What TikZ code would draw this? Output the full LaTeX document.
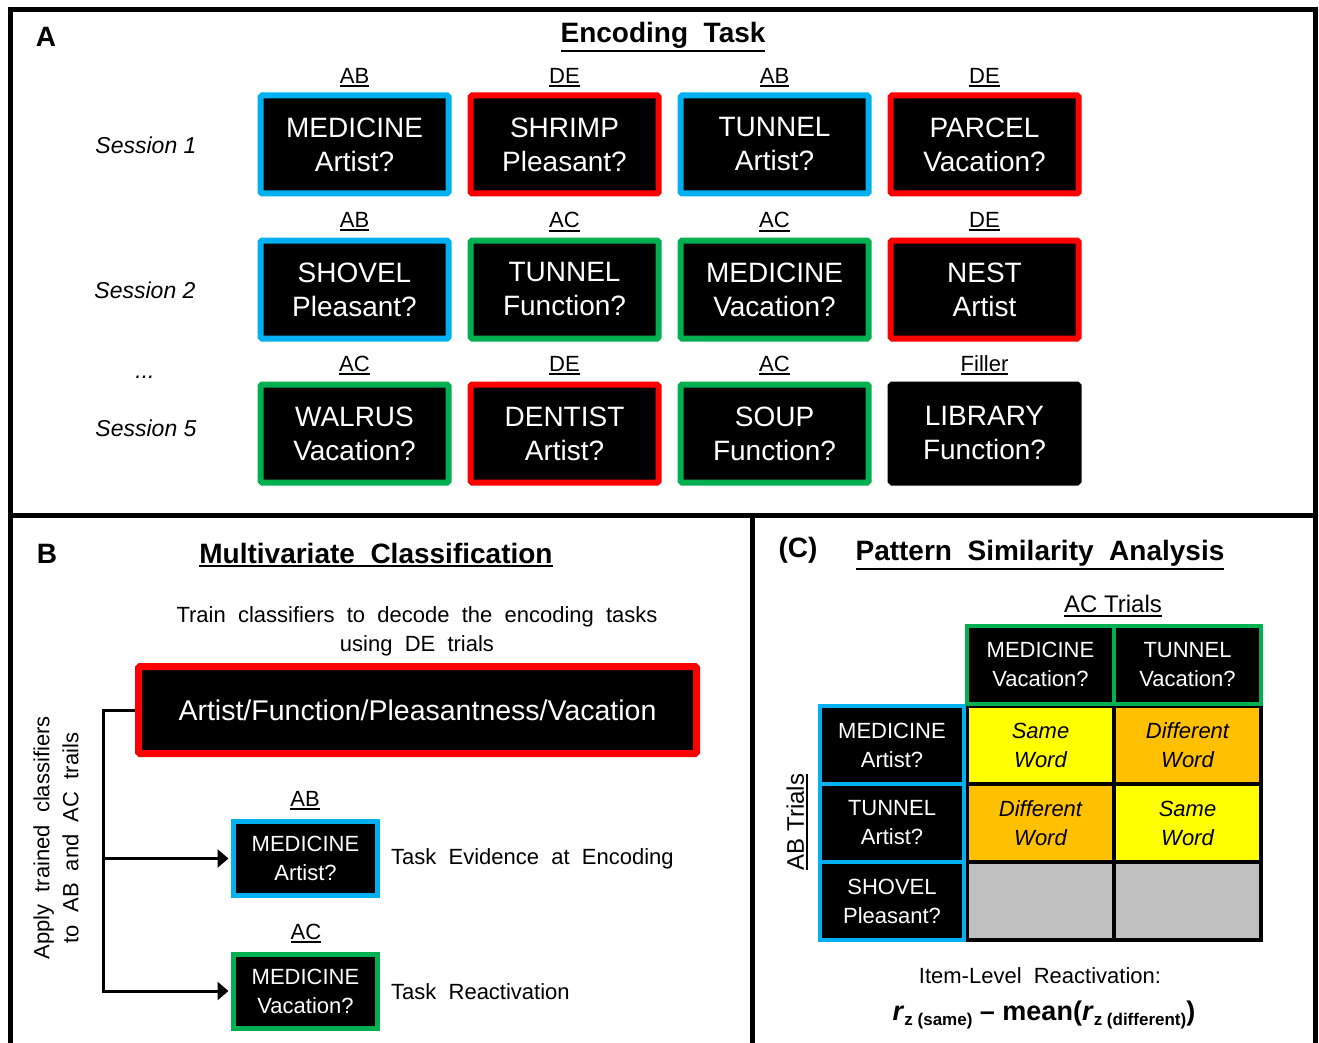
\documentclass[tikz,border=0pt]{standalone}
\usepackage{fontspec}
\setmainfont{Liberation Sans}
\usetikzlibrary{arrows.meta}
\definecolor{cblue}{HTML}{00B0F0}
\definecolor{cred}{HTML}{FF0000}
\definecolor{cgreen}{HTML}{00B050}
\definecolor{cyel}{HTML}{FFFF00}
\definecolor{corange}{HTML}{FFC000}
\definecolor{cgray}{HTML}{C0C0C0}
\newcommand\fs[2]{\fontsize{#1}{#2}\selectfont}
\newcommand\myul[1]{\setbox0=\hbox{#1}\leavevmode\rlap{\vrule width\wd0 height -\dimexpr\dp0+1.5pt\relax depth \dimexpr\dp0+3.5pt\relax}\box0}
\begin{document}
\begin{tikzpicture}[x=1pt,y=-1pt,
  panel/.style={line width=5pt, line join=miter},
  letter/.style={font=\fs{28}{32}\bfseries, inner sep=0pt},
  title/.style={font=\fs{28}{32}\bfseries, inner sep=0pt},
  lab/.style={font=\fs{22}{26}, inner sep=0pt},
  txt/.style={font=\fs{22}{29}, inner sep=0pt},
  sess/.style={font=\fs{23}{27}\itshape, inner sep=0pt},
  card/.style={draw=#1, line width=6pt, fill=black, text=white, minimum width=188pt, minimum height=98pt, align=center, font=\fs{28}{34}, rounded corners=1.5pt, inner sep=0pt},
  bigcard/.style={draw=cred, line width=7pt, fill=black, text=white, minimum width=558pt, minimum height=87pt, align=center, font=\fs{28.5}{34}, rounded corners=1.5pt, inner sep=0pt},
  scard/.style={draw=#1, line width=5pt, fill=black, text=white, minimum width=144pt, minimum height=74pt, align=center, font=\fs{22}{29}, inner sep=0pt},
  cell/.style={draw=black, line width=4pt, fill=#1, minimum width=147pt, minimum height=78pt, align=center, font=\fs{22}{29}\itshape, inner sep=0pt},
  hcell/.style={draw=#1, line width=4pt, fill=black, text=white, minimum width=147pt, minimum height=78pt, align=center, font=\fs{22}{29}, inner sep=0pt},
  rcell/.style={draw=#1, line width=4pt, fill=black, text=white, minimum width=144pt, minimum height=78pt, align=center, font=\fs{22}{29}, inner sep=0pt},
  conn/.style={line width=3pt, line join=miter, -{Triangle[length=11pt,width=18pt]}, shorten >=2.5pt}
]
\useasboundingbox (0,0) rectangle (1319,1043);
% frame
\draw[panel] (10,1043) -- (10,10) -- (1315,10) -- (1315,1043);
\draw[panel] (10,515) -- (1315,515);
\draw[panel] (752,515) -- (752,1043);

% ---------- Panel A ----------
\node[letter] (lA) at (46,37) {A};
\node[title] (tA) at (663,37) {\myul{Encoding\ \ Task}};
\node[sess] (s1) at (146,145) {Session 1};
\node[sess] (s2) at (145,290) {Session 2};
\node[sess] (sd) at (145,377) {...};
\node[sess] (s5) at (146,428) {Session 5};

\node[lab] (l11) at (354.5,77.5) {\myul{AB}};
\node[lab] (l12) at (564.5,77.5) {\myul{DE}};
\node[lab] (l13) at (774.5,77.5) {\myul{AB}};
\node[lab] (l14) at (984.5,77.5) {\myul{DE}};
\node[card=cblue]  (a11) at (354.5,144.5) {MEDICINE\\Artist?};
\node[card=cred]   (a12) at (564.5,144.5) {SHRIMP\\Pleasant?};
\node[card=cblue]  (a13) at (774.5,144.5) {TUNNEL\\Artist?};
\node[card=cred]   (a14) at (984.5,144.5) {PARCEL\\Vacation?};

\node[lab] (l21) at (354.5,222) {\myul{AB}};
\node[lab] (l22) at (564.5,222) {\myul{AC}};
\node[lab] (l23) at (774.5,222) {\myul{AC}};
\node[lab] (l24) at (984.5,222) {\myul{DE}};
\node[card=cblue]  (a21) at (354.5,289.5) {SHOVEL\\Pleasant?};
\node[card=cgreen] (a22) at (564.5,289.5) {TUNNEL\\Function?};
\node[card=cgreen] (a23) at (774.5,289.5) {MEDICINE\\Vacation?};
\node[card=cred]   (a24) at (984.5,289.5) {NEST\\Artist};

\node[lab] (l31) at (354.5,365.5) {\myul{AC}};
\node[lab] (l32) at (564.5,365.5) {\myul{DE}};
\node[lab] (l33) at (774.5,365.5) {\myul{AC}};
\node[lab] (l34) at (984.5,365.5) {\myul{Filler}};
\node[card=cgreen] (a31) at (354.5,433.5) {WALRUS\\Vacation?};
\node[card=cred]   (a32) at (564.5,433.5) {DENTIST\\Artist?};
\node[card=cgreen] (a33) at (774.5,433.5) {SOUP\\Function?};
\node[card=black]  (a34) at (984.5,433.5) {LIBRARY\\Function?};

% ---------- Panel B ----------
\node[letter] (lB) at (47,554) {B};
\node[title] (tB) at (376,555) {\myul{Multivariate\ \ Classification}};
\node[txt, align=center] (train) at (417,631) {Train\ \ classifiers\ \ to\ \ decode\ \ the\ \ encoding\ \ tasks\\using\ \ DE\ \ trials};
\node[bigcard] (big) at (417.5,710) {Artist/Function/Pleasantness/Vacation};
\node[lab] (lab) at (305,800.5) {\myul{AB}};
\node[scard=cblue] (ab) at (305.5,858.5) {MEDICINE\\Artist?};
\node[lab] (lac) at (306,933.5) {\myul{AC}};
\node[scard=cgreen] (ac) at (305.5,991) {MEDICINE\\Vacation?};
\node[txt, anchor=west] (te) at (391,859) {Task\ \ Evidence\ \ at\ \ Encoding};
\node[txt, anchor=west] (tr) at (391,992) {Task\ \ Reactivation};
\node[txt, rotate=90, align=center] (apply) at (56,838) {Apply\ \ trained\ \ classifiers\\to\ \ AB\ \ and\ \ AC\ \ trails};
\coordinate (trunk) at (103,710);
\draw[conn] (big.west) -- (trunk) |- (ac.west);
\draw[conn] (trunk |- ab.west) -- (ab.west);

% ---------- Panel C ----------
\node[letter] (lC) at (798,550) {(C)};
\node[title] (tC) at (1040,555) {\myul{Pattern\ \ Similarity\ \ Analysis}};
\node[font=\fs{24}{28}, inner sep=0pt] (acT) at (1113,606) {\myul{AC Trials}};
\node[font=\fs{24}{28}, inner sep=0pt, rotate=90] (abT) at (797,822) {\myul{AB Trials}};

\node[cell=cyel]    (d11) at (1040.5,745) {Same\\Word};
\node[cell=corange] (d12) at (1187.5,745) {Different\\Word};
\node[cell=corange] (d21) at (1040.5,823) {Different\\Word};
\node[cell=cyel]    (d22) at (1187.5,823) {Same\\Word};
\node[cell=cgray]   (d31) at (1040.5,901) {};
\node[cell=cgray]   (d32) at (1187.5,901) {};

\node[rcell=cblue] (r1) at (892,745) {MEDICINE\\Artist?};
\node[rcell=cblue] (r2) at (892,823) {TUNNEL\\Artist?};
\node[rcell=cblue] (r3) at (892,901) {SHOVEL\\Pleasant?};

\node[hcell=cgreen] (h1) at (1040.5,664.5) {MEDICINE\\Vacation?};
\node[hcell=cgreen] (h2) at (1187.5,664.5) {TUNNEL\\Vacation?};

\node[txt] (il) at (1040,976) {Item-Level\ \ Reactivation:};
\node[font=\fs{27}{32}\bfseries, inner sep=0pt] (fm) at (1044,1015) {\textit{r}\raisebox{-5pt}{\fs{17}{19}z (same)} – mean(\textit{r}\raisebox{-5pt}{\fs{17}{19}z (different)})};
\end{tikzpicture}
\end{document}
